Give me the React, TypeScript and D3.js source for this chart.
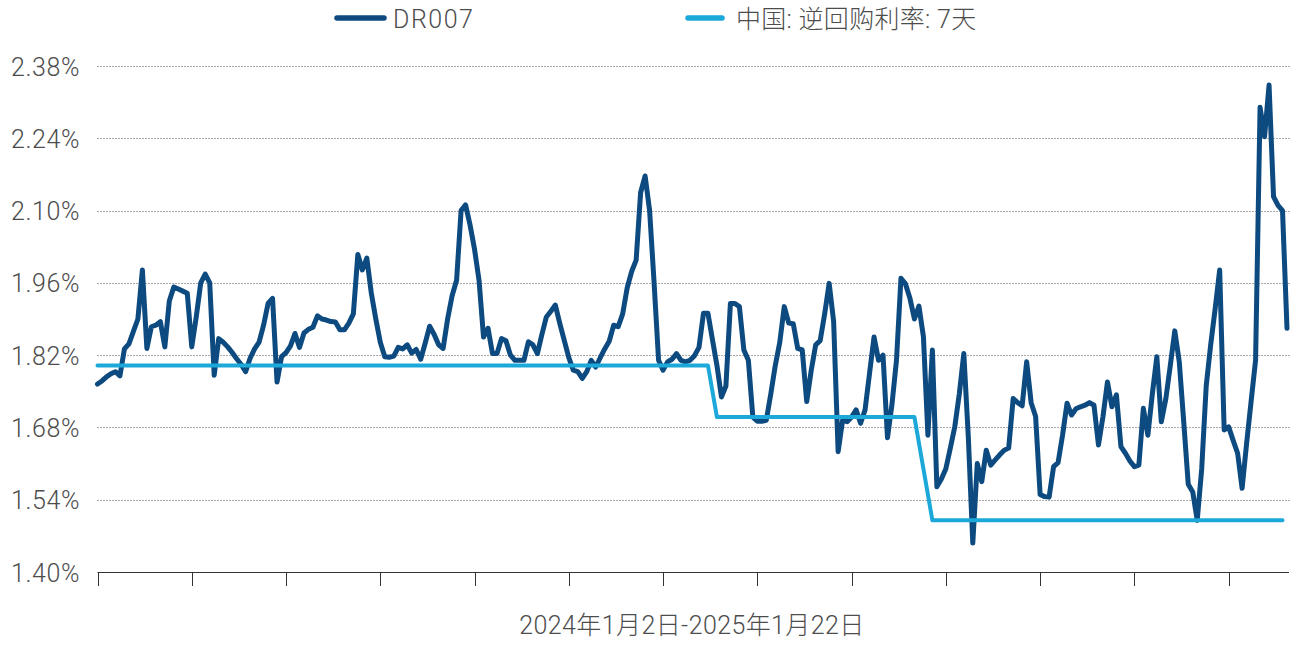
import React from 'react';
import * as d3 from 'd3';

// Category axis: trading days from 2024-01-02 to 2025-01-22
const periodLabel = '2024年1月2日-2025年1月22日';
const seriesNames = ['DR007', '中国: 逆回购利率: 7天'];

// DR007 daily values (%)
const dr007: number[] = [
  1.764, 1.770, 1.778, 1.784, 1.788, 1.780, 1.832, 1.842, 1.866, 1.890,
  1.985, 1.833, 1.875, 1.878, 1.885, 1.836, 1.925, 1.952, 1.948, 1.944,
  1.940, 1.836, 1.894, 1.960, 1.977, 1.960, 1.781, 1.852, 1.845, 1.836,
  1.825, 1.813, 1.802, 1.788, 1.814, 1.832, 1.845, 1.878, 1.920, 1.930,
  1.768, 1.817, 1.825, 1.838, 1.862, 1.835, 1.863, 1.870, 1.874, 1.896,
  1.890, 1.888, 1.885, 1.884, 1.869, 1.869, 1.882, 1.900, 2.015, 1.985,
  2.008, 1.940, 1.890, 1.845, 1.817, 1.816, 1.818, 1.835, 1.832, 1.840,
  1.824, 1.831, 1.812, 1.843, 1.876, 1.860, 1.840, 1.833, 1.890, 1.935,
  1.965, 2.100, 2.111, 2.072, 2.025, 1.965, 1.855, 1.872, 1.823, 1.823,
  1.852, 1.848, 1.820, 1.810, 1.810, 1.810, 1.846, 1.840, 1.823, 1.860,
  1.894, 1.905, 1.917, 1.881, 1.848, 1.815, 1.791, 1.788, 1.775, 1.788,
  1.810, 1.797, 1.815, 1.832, 1.847, 1.878, 1.875, 1.900, 1.950, 1.982,
  2.004, 2.135, 2.167, 2.100, 1.960, 1.810, 1.791, 1.807, 1.812, 1.823,
  1.810, 1.807, 1.810, 1.819, 1.835, 1.901, 1.901, 1.850, 1.800, 1.739,
  1.760, 1.920, 1.920, 1.914, 1.830, 1.810, 1.700, 1.692, 1.692, 1.694,
  1.745, 1.800, 1.845, 1.914, 1.882, 1.881, 1.833, 1.830, 1.730, 1.790,
  1.840, 1.848, 1.900, 1.959, 1.885, 1.633, 1.694, 1.691, 1.700, 1.714,
  1.688, 1.714, 1.785, 1.855, 1.810, 1.820, 1.660, 1.725, 1.810, 1.969,
  1.958, 1.930, 1.890, 1.915, 1.856, 1.665, 1.830, 1.565, 1.580, 1.600,
  1.640, 1.682, 1.745, 1.823, 1.662, 1.456, 1.610, 1.575, 1.636, 1.607,
  1.617, 1.627, 1.636, 1.640, 1.736, 1.728, 1.722, 1.807, 1.728, 1.701,
  1.550, 1.546, 1.545, 1.604, 1.612, 1.665, 1.727, 1.704, 1.716, 1.720,
  1.723, 1.728, 1.723, 1.646, 1.701, 1.768, 1.720, 1.743, 1.643, 1.630,
  1.615, 1.604, 1.607, 1.717, 1.665, 1.745, 1.817, 1.691, 1.735, 1.800,
  1.867, 1.807, 1.690, 1.570, 1.555, 1.500, 1.600, 1.760, 1.840, 1.910,
  1.985, 1.675, 1.681, 1.655, 1.630, 1.562, 1.649, 1.730, 1.810, 2.300,
  2.243, 2.343, 2.127, 2.110, 2.100, 1.872,
];

// 7-day reverse repo rate: [first day index, last day index, rate %]
const repoStepStart = [0, 138, 186];
const repoStepEnd = [136, 182, 264];
const repoStepRate = [1.8, 1.7, 1.5];

const yTicks = [1.40, 1.54, 1.68, 1.82, 1.96, 2.10, 2.24, 2.38];
const tickEvery = 21;

const DARK = '#0c4a7f';
const LIGHT = '#1ca9d9';
const TEXT = '#4d4d4d';
const FONT = "Roboto, 'Noto Sans CJK SC', sans-serif";

export default function App() {
  const W = 1311;
  const H = 648;
  const left = 97.5;
  const right = 1287;
  const top = 66;
  const bottom = 572;

  const x = d3.scaleLinear().domain([0, dr007.length - 1]).range([left, right]);
  const y = d3.scaleLinear().domain([1.40, 2.38]).range([bottom, top]);
  const line = d3
    .line<[number, number]>()
    .x((d) => x(d[0]))
    .y((d) => y(d[1]));

  const drPts: [number, number][] = dr007.map((v, i) => [i, v]);
  const repoPts: [number, number][] = [];
  repoStepStart.forEach((s, k) => {
    d3.range(s, repoStepEnd[k] + 1).forEach((i) => repoPts.push([i, repoStepRate[k]]));
  });

  const xTicks = d3.range(0, dr007.length, tickEvery);

  return (
    <svg
      width={W}
      height={H}
      style={{ position: 'absolute', left: 0, top: 0, background: '#fff' }}
      fontFamily={FONT}
    >
      {/* legend */}
      <g>
        <line x1={337} x2={384} y1={18} y2={18} stroke={DARK} strokeWidth={5.5} strokeLinecap="round" />
        <text x={393} y={19} dominantBaseline="central" fontSize={25} fontWeight={300} letterSpacing={1.5} fill={TEXT}>
          {seriesNames[0]}
        </text>
        <line x1={688} x2={722} y1={18} y2={18} stroke={LIGHT} strokeWidth={5.5} strokeLinecap="round" />
        <text x={736} y={19} dominantBaseline="central" fontSize={25} fontWeight={300} letterSpacing={0.3} fill={TEXT}>
          {seriesNames[1]}
        </text>
      </g>

      {/* gridlines */}
      {yTicks.slice(1).map((t) => (
        <line
          key={t}
          x1={left}
          x2={1290}
          y1={Math.round(y(t)) + 0.5}
          y2={Math.round(y(t)) + 0.5}
          stroke="#555"
          strokeWidth={1}
          strokeDasharray="1,2"
        />
      ))}

      {/* y labels */}
      {yTicks.map((t) => (
        <text
          key={t}
          x={80}
          y={y(t) + 1}
          textAnchor="end"
          dominantBaseline="central"
          fontSize={25}
          fontWeight={300}
          letterSpacing={0.6}
          fill={TEXT}
        >
          {t.toFixed(2) + '%'}
        </text>
      ))}

      {/* x axis */}
      <line x1={left} x2={1289} y1={bottom + 0.5} y2={bottom + 0.5} stroke="#333" strokeWidth={1} />
      {xTicks.map((i) => (
        <line
          key={i}
          x1={Math.round(x(i)) + 0.5}
          x2={Math.round(x(i)) + 0.5}
          y1={bottom}
          y2={bottom + 14}
          stroke="#333"
          strokeWidth={1}
        />
      ))}
      <text x={692} y={625} textAnchor="middle" dominantBaseline="central" fontSize={25} fontWeight={300} letterSpacing={0.4} fill={TEXT}>
        {periodLabel}
      </text>

      {/* series */}
      <path d={line(drPts) || ''} fill="none" stroke={DARK} strokeWidth={5} strokeLinejoin="round" strokeLinecap="round" />
      <path d={line(repoPts) || ''} fill="none" stroke={LIGHT} strokeWidth={4} strokeLinejoin="round" strokeLinecap="round" />
    </svg>
  );
}
